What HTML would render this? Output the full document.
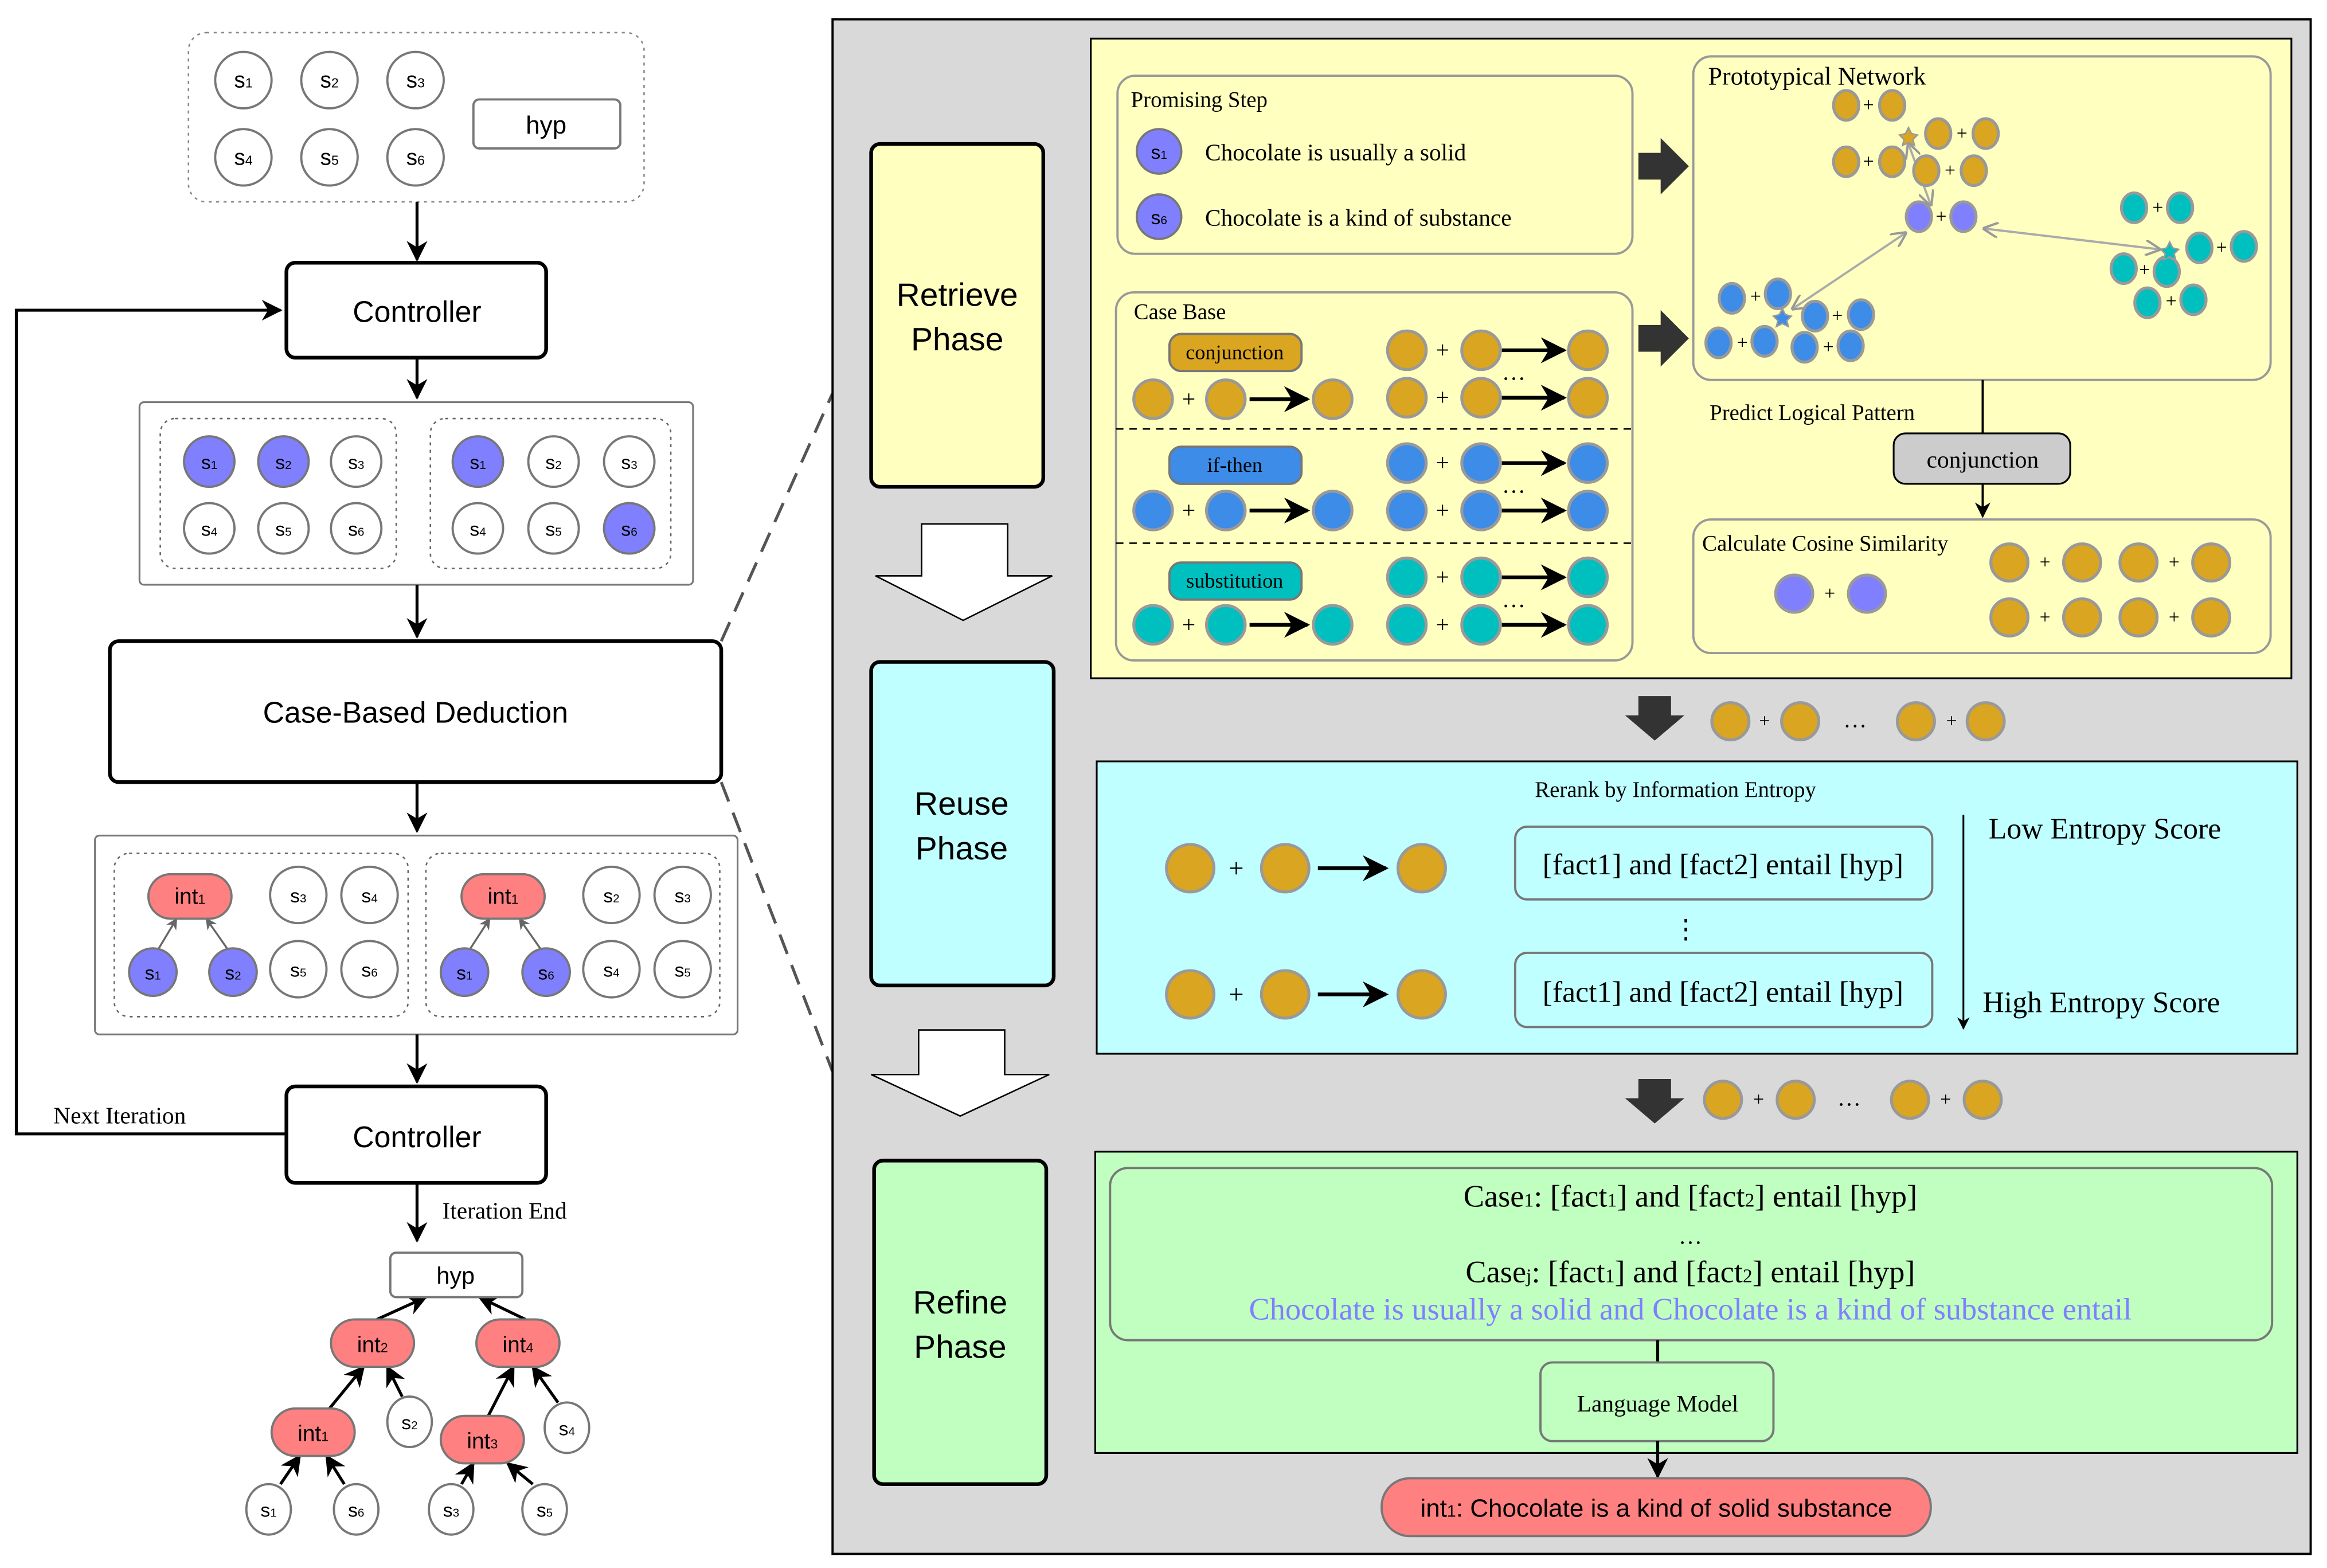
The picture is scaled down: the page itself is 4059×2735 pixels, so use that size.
<!DOCTYPE html>
<html><head><meta charset="utf-8"><style>html,body{margin:0;padding:0;background:#fff}svg{display:block}</style></head><body>
<svg width="4059" height="2735" viewBox="0 0 1568 1056.5" preserveAspectRatio="none" xmlns="http://www.w3.org/2000/svg">
<defs>
<marker id="ab" viewBox="0 0 10 10" refX="9" refY="5" markerWidth="7" markerHeight="7" orient="auto-start-reverse"><path d="M0,0 L10,5 L0,10 L3,5z" fill="#000"/></marker>
<marker id="ag" viewBox="0 0 10 10" refX="9" refY="5" markerWidth="7" markerHeight="7" orient="auto-start-reverse"><path d="M0,0 L10,5 L0,10" fill="none" stroke="#999" stroke-width="1.5"/></marker>
<marker id="agr" viewBox="0 0 10 10" refX="9" refY="5" markerWidth="6" markerHeight="6" orient="auto-start-reverse"><path d="M0,0 L10,5 L0,10 L3,5z" fill="#666"/></marker>
</defs>
<style>
.sans{font-family:"Liberation Sans",sans-serif}
.ser{font-family:"Liberation Serif",serif}
.c{stroke:#777;stroke-width:1.5}
.cg{stroke:#999;stroke-width:2}
</style>
<rect width="1568" height="1056.5" fill="#fff"/>

<!-- LEFT -->
<rect x="127" y="22" width="307" height="114" rx="12" fill="none" stroke="#888" stroke-dasharray="2,3"/>
<g class="sans" font-size="15" text-anchor="middle" fill="#000">
<g fill="#fff" class="c">
<circle cx="164" cy="54" r="19"/><circle cx="222" cy="54" r="19"/><circle cx="280" cy="54" r="19"/>
<circle cx="164" cy="106" r="19"/><circle cx="222" cy="106" r="19"/><circle cx="280" cy="106" r="19"/>
</g>
<text x="164" y="59">s<tspan font-size="9">1</tspan></text><text x="222" y="59">s<tspan font-size="9">2</tspan></text><text x="280" y="59">s<tspan font-size="9">3</tspan></text>
<text x="164" y="111">s<tspan font-size="9">4</tspan></text><text x="222" y="111">s<tspan font-size="9">5</tspan></text><text x="280" y="111">s<tspan font-size="9">6</tspan></text>
<rect x="319" y="67" width="99" height="33" rx="4" fill="#fff" class="c"/>
<text x="368" y="90" font-size="17">hyp</text>
</g>
<line x1="281" y1="136" x2="281" y2="175" stroke="#000" stroke-width="2" marker-end="url(#ab)"/>
<rect x="193" y="177" width="175" height="64" rx="6" fill="#fff" stroke="#000" stroke-width="2.5"/>
<text x="281" y="217" class="sans" font-size="20" text-anchor="middle">Controller</text>
<polyline points="193,764 11,764 11,209 189,209" fill="none" stroke="#000" stroke-width="2" marker-end="url(#ab)"/>
<line x1="281" y1="241" x2="281" y2="268" stroke="#000" stroke-width="2" marker-end="url(#ab)"/>

<rect x="94" y="271" width="373" height="123" rx="3" fill="#fff" stroke="#777" stroke-width="1.2"/>
<rect x="108" y="282" width="159" height="101" rx="10" fill="none" stroke="#666" stroke-dasharray="2,3"/>
<rect x="290" y="282" width="162" height="101" rx="10" fill="none" stroke="#666" stroke-dasharray="2,3"/>
<g class="sans" font-size="13" text-anchor="middle">
<g class="c">
<circle cx="141" cy="311" r="17" fill="#8080ff"/><circle cx="191" cy="311" r="17" fill="#8080ff"/><circle cx="240" cy="311" r="17" fill="#fff"/>
<circle cx="141" cy="356" r="17" fill="#fff"/><circle cx="191" cy="356" r="17" fill="#fff"/><circle cx="240" cy="356" r="17" fill="#fff"/>
<circle cx="322" cy="311" r="17" fill="#8080ff"/><circle cx="373" cy="311" r="17" fill="#fff"/><circle cx="424" cy="311" r="17" fill="#fff"/>
<circle cx="322" cy="356" r="17" fill="#fff"/><circle cx="373" cy="356" r="17" fill="#fff"/><circle cx="424" cy="356" r="17" fill="#8080ff"/>
</g>
<text x="141" y="316">s<tspan font-size="8">1</tspan></text><text x="191" y="316">s<tspan font-size="8">2</tspan></text><text x="240" y="316">s<tspan font-size="8">3</tspan></text>
<text x="141" y="361">s<tspan font-size="8">4</tspan></text><text x="191" y="361">s<tspan font-size="8">5</tspan></text><text x="240" y="361">s<tspan font-size="8">6</tspan></text>
<text x="322" y="316">s<tspan font-size="8">1</tspan></text><text x="373" y="316">s<tspan font-size="8">2</tspan></text><text x="424" y="316">s<tspan font-size="8">3</tspan></text>
<text x="322" y="361">s<tspan font-size="8">4</tspan></text><text x="373" y="361">s<tspan font-size="8">5</tspan></text><text x="424" y="361">s<tspan font-size="8">6</tspan></text>
</g>
<line x1="281" y1="394" x2="281" y2="429" stroke="#000" stroke-width="2" marker-end="url(#ab)"/>
<rect x="74" y="432" width="412" height="95" rx="6" fill="#fff" stroke="#000" stroke-width="2.5"/>
<text x="280" y="487" class="sans" font-size="20" text-anchor="middle">Case-Based Deduction</text>
<line x1="281" y1="527" x2="281" y2="560" stroke="#000" stroke-width="2" marker-end="url(#ab)"/>

<rect x="64" y="563" width="433" height="134" rx="3" fill="#fff" stroke="#777" stroke-width="1.2"/>
<rect x="77" y="575" width="198" height="110" rx="10" fill="none" stroke="#666" stroke-dasharray="2,3"/>
<rect x="287" y="575" width="198" height="110" rx="10" fill="none" stroke="#666" stroke-dasharray="2,3"/>
<g class="sans" font-size="13" text-anchor="middle">
<line x1="107" y1="639" x2="119" y2="619" stroke="#666" stroke-width="1.3" marker-end="url(#agr)"/>
<line x1="153" y1="639" x2="139" y2="619" stroke="#666" stroke-width="1.3" marker-end="url(#agr)"/>
<line x1="317" y1="639" x2="330" y2="619" stroke="#666" stroke-width="1.3" marker-end="url(#agr)"/>
<line x1="364" y1="639" x2="350" y2="619" stroke="#666" stroke-width="1.3" marker-end="url(#agr)"/>
<g class="c">
<rect x="100" y="589" width="56" height="30" rx="15" fill="#ff8080"/>
<rect x="311" y="589" width="56" height="30" rx="15" fill="#ff8080"/>
<circle cx="201" cy="603" r="19" fill="#fff"/><circle cx="249" cy="603" r="19" fill="#fff"/>
<circle cx="103" cy="655" r="16" fill="#8080ff"/><circle cx="157" cy="655" r="16" fill="#8080ff"/>
<circle cx="201" cy="653" r="19" fill="#fff"/><circle cx="249" cy="653" r="19" fill="#fff"/>
<circle cx="412" cy="603" r="19" fill="#fff"/><circle cx="460" cy="603" r="19" fill="#fff"/>
<circle cx="313" cy="655" r="16" fill="#8080ff"/><circle cx="368" cy="655" r="16" fill="#8080ff"/>
<circle cx="412" cy="653" r="19" fill="#fff"/><circle cx="460" cy="653" r="19" fill="#fff"/>
</g>
<text x="128" y="609" font-size="15">int<tspan font-size="9">1</tspan></text>
<text x="339" y="609" font-size="15">int<tspan font-size="9">1</tspan></text>
<text x="201" y="608">s<tspan font-size="8">3</tspan></text><text x="249" y="608">s<tspan font-size="8">4</tspan></text>
<text x="103" y="660">s<tspan font-size="8">1</tspan></text><text x="157" y="660">s<tspan font-size="8">2</tspan></text>
<text x="201" y="658">s<tspan font-size="8">5</tspan></text><text x="249" y="658">s<tspan font-size="8">6</tspan></text>
<text x="412" y="608">s<tspan font-size="8">2</tspan></text><text x="460" y="608">s<tspan font-size="8">3</tspan></text>
<text x="313" y="660">s<tspan font-size="8">1</tspan></text><text x="368" y="660">s<tspan font-size="8">6</tspan></text>
<text x="412" y="658">s<tspan font-size="8">4</tspan></text><text x="460" y="658">s<tspan font-size="8">5</tspan></text>
</g>
<line x1="281" y1="697" x2="281" y2="729" stroke="#000" stroke-width="2" marker-end="url(#ab)"/>
<rect x="193" y="732" width="175" height="65" rx="6" fill="#fff" stroke="#000" stroke-width="2.5"/>
<text x="281" y="773" class="sans" font-size="20" text-anchor="middle">Controller</text>
<text x="36" y="757" class="ser" font-size="16">Next Iteration</text>
<line x1="281" y1="797" x2="281" y2="836" stroke="#000" stroke-width="2" marker-end="url(#ab)"/>
<text x="298" y="821" class="ser" font-size="16">Iteration End</text>

<!-- tree -->
<g stroke="#000" stroke-width="2" marker-end="url(#ab)">
<line x1="254" y1="889" x2="287" y2="874"/>
<line x1="354" y1="889" x2="323" y2="874"/>
<line x1="222" y1="949" x2="245" y2="921"/>
<line x1="271" y1="941" x2="261" y2="921"/>
<line x1="329" y1="954" x2="346" y2="921"/>
<line x1="376" y1="945" x2="359" y2="921"/>
<line x1="189" y1="1000" x2="202" y2="981"/>
<line x1="232" y1="1000" x2="220" y2="981"/>
<line x1="311" y1="1000" x2="319" y2="986"/>
<line x1="359" y1="1000" x2="342" y2="986"/>
</g>
<g class="sans" font-size="15" text-anchor="middle">
<rect x="263" y="844" width="89" height="30" rx="4" fill="#fff" class="c"/>
<text x="307" y="865" font-size="16">hyp</text>
<g class="c" fill="#ff8080">
<rect x="223" y="889" width="56" height="32" rx="16"/>
<rect x="321" y="889" width="56" height="32" rx="16"/>
<rect x="183" y="949" width="56" height="32" rx="16"/>
<rect x="297" y="954" width="56" height="32" rx="16"/>
</g>
<text x="251" y="911">int<tspan font-size="9">2</tspan></text>
<text x="349" y="911">int<tspan font-size="9">4</tspan></text>
<text x="211" y="971">int<tspan font-size="9">1</tspan></text>
<text x="325" y="976">int<tspan font-size="9">3</tspan></text>
<g class="c" fill="#fff">
<ellipse cx="276" cy="958" rx="15" ry="17"/><ellipse cx="382" cy="962" rx="15" ry="17"/>
<ellipse cx="181" cy="1017" rx="15" ry="17"/><ellipse cx="240" cy="1017" rx="15" ry="17"/>
<ellipse cx="304" cy="1017" rx="15" ry="17"/><ellipse cx="367" cy="1017" rx="15" ry="17"/>
</g>
<g font-size="13">
<text x="276" y="963">s<tspan font-size="8">2</tspan></text><text x="382" y="967">s<tspan font-size="8">4</tspan></text>
<text x="181" y="1022">s<tspan font-size="8">1</tspan></text><text x="240" y="1022">s<tspan font-size="8">6</tspan></text>
<text x="304" y="1022">s<tspan font-size="8">3</tspan></text><text x="367" y="1022">s<tspan font-size="8">5</tspan></text>
</g>
</g>

<!-- dashed connectors -->
<line x1="486" y1="432" x2="561" y2="265" stroke="#555" stroke-width="2" stroke-dasharray="14,8"/>
<line x1="486" y1="527" x2="561" y2="722" stroke="#555" stroke-width="2" stroke-dasharray="14,8"/>

<!-- RIGHT PANEL -->
<rect x="561" y="13" width="996" height="1034" fill="#d9d9d9" stroke="#000" stroke-width="1.5"/>
<g class="sans" font-size="22" text-anchor="middle">
<rect x="587" y="97" width="116" height="231" rx="6" fill="#ffffc0" stroke="#000" stroke-width="2.5"/>
<text x="645" y="206">Retrieve</text><text x="645" y="236">Phase</text>
<rect x="587" y="446" width="123" height="218" rx="6" fill="#c0ffff" stroke="#000" stroke-width="2.5"/>
<text x="648" y="549">Reuse</text><text x="648" y="579">Phase</text>
<rect x="589" y="782" width="116" height="218" rx="6" fill="#c0ffc0" stroke="#000" stroke-width="2.5"/>
<text x="647" y="885">Refine</text><text x="647" y="915">Phase</text>
</g>
<path d="M621,353 H679 V388 H709 L649,418 L590,388 H621Z" fill="#fff" stroke="#000" stroke-width="1"/>
<path d="M619,694 H677 V724 H707 L647,752 L587,724 H619Z" fill="#fff" stroke="#000" stroke-width="1"/>

<!-- yellow panel -->
<rect x="735" y="26" width="809" height="431" fill="#ffffc0" stroke="#000" stroke-width="1.2"/>
<rect x="753" y="51" width="347" height="120" rx="12" fill="none" stroke="#999" stroke-width="1.5"/>
<g class="ser" font-size="16">
<text x="762" y="72" font-size="15">Promising Step</text>
<circle cx="781" cy="102" r="15" fill="#8080ff" class="c"/>
<text x="781" y="107" class="sans" font-size="13" text-anchor="middle">s<tspan font-size="8">1</tspan></text>
<text x="812" y="108">Chocolate is usually a solid</text>
<circle cx="781" cy="146" r="15" fill="#8080ff" class="c"/>
<text x="781" y="151" class="sans" font-size="13" text-anchor="middle">s<tspan font-size="8">6</tspan></text>
<text x="812" y="152">Chocolate is a kind of substance</text>
</g>
<path d="M1104,103 H1119 V93 L1138,112 L1119,131 V121 H1104Z" fill="#333"/>
<path d="M1104,219 H1119 V209 L1138,228 L1119,247 V237 H1104Z" fill="#333"/>

<rect x="752" y="197" width="348" height="248" rx="12" fill="none" stroke="#999" stroke-width="1.5"/>
<text x="764" y="215" class="ser" font-size="15">Case Base</text>
<line x1="752" y1="289" x2="1100" y2="289" stroke="#000" stroke-dasharray="5,4"/>
<line x1="752" y1="366" x2="1100" y2="366" stroke="#000" stroke-dasharray="5,4"/>
<g class="ser" font-size="14" text-anchor="middle">
<rect x="788" y="225" width="89" height="25" rx="8" fill="#daa520" class="c"/><text x="832" y="242">conjunction</text>
<rect x="788" y="301" width="89" height="25" rx="8" fill="#3c8ce8" class="c"/><text x="832" y="318">if-then</text>
<rect x="788" y="379" width="89" height="25" rx="8" fill="#00bfbf" class="c"/><text x="832" y="396">substitution</text>
</g>
<g class="cg" stroke-width="1.5">
<!-- conj -->
<g fill="#daa520">
<circle cx="777" cy="269" r="13"/><circle cx="826" cy="269" r="13"/><circle cx="898" cy="269" r="13"/>
<circle cx="948" cy="236" r="13"/><circle cx="998" cy="236" r="13"/><circle cx="1070" cy="236" r="13"/>
<circle cx="948" cy="268" r="13"/><circle cx="998" cy="268" r="13"/><circle cx="1070" cy="268" r="13"/>
</g>
<g fill="#3c8ce8">
<circle cx="777" cy="344" r="13"/><circle cx="826" cy="344" r="13"/><circle cx="898" cy="344" r="13"/>
<circle cx="948" cy="312" r="13"/><circle cx="998" cy="312" r="13"/><circle cx="1070" cy="312" r="13"/>
<circle cx="948" cy="344" r="13"/><circle cx="998" cy="344" r="13"/><circle cx="1070" cy="344" r="13"/>
</g>
<g fill="#00bfbf">
<circle cx="777" cy="421" r="13"/><circle cx="826" cy="421" r="13"/><circle cx="898" cy="421" r="13"/>
<circle cx="948" cy="389" r="13"/><circle cx="998" cy="389" r="13"/><circle cx="1070" cy="389" r="13"/>
<circle cx="948" cy="421" r="13"/><circle cx="998" cy="421" r="13"/><circle cx="1070" cy="421" r="13"/>
</g>
</g>
<g stroke="#000" stroke-width="2.5" marker-end="url(#ab)">
<line x1="842" y1="269" x2="881" y2="269"/><line x1="1012" y1="236" x2="1054" y2="236"/><line x1="1012" y1="268" x2="1054" y2="268"/>
<line x1="842" y1="344" x2="881" y2="344"/><line x1="1012" y1="312" x2="1054" y2="312"/><line x1="1012" y1="344" x2="1054" y2="344"/>
<line x1="842" y1="421" x2="881" y2="421"/><line x1="1012" y1="389" x2="1054" y2="389"/><line x1="1012" y1="421" x2="1054" y2="421"/>
</g>
<g class="ser" font-size="16" text-anchor="middle">
<text x="801" y="274">+</text><text x="972" y="241">+</text><text x="972" y="273">+</text><text x="1020" y="256">…</text>
<text x="801" y="349">+</text><text x="972" y="317">+</text><text x="972" y="349">+</text><text x="1020" y="332">…</text>
<text x="801" y="426">+</text><text x="972" y="394">+</text><text x="972" y="426">+</text><text x="1020" y="409">…</text>
</g>

<!-- prototypical network -->
<rect x="1141" y="38" width="389" height="218" rx="12" fill="none" stroke="#999" stroke-width="1.5"/>
<text x="1151" y="57" class="ser" font-size="17">Prototypical Network</text>
<g stroke="#aaa" stroke-width="1.5" marker-end="url(#ag)" marker-start="url(#ag)">
<line x1="1286" y1="97" x2="1301" y2="138"/>
<line x1="1337" y1="154" x2="1455" y2="168"/>
<line x1="1284" y1="157" x2="1208" y2="208"/>
</g>
<g class="cg" stroke-width="1.8">
<g fill="#daa520">
<ellipse cx="1244" cy="71" rx="8.5" ry="10"/><ellipse cx="1275" cy="71" rx="8.5" ry="10"/>
<ellipse cx="1306" cy="90" rx="8.5" ry="10"/><ellipse cx="1338" cy="90" rx="8.5" ry="10"/>
<ellipse cx="1244" cy="109" rx="8.5" ry="10"/><ellipse cx="1275" cy="109" rx="8.5" ry="10"/>
<ellipse cx="1298" cy="115" rx="8.5" ry="10"/><ellipse cx="1330" cy="115" rx="8.5" ry="10"/>
</g>
<g fill="#8080ff"><ellipse cx="1293" cy="146" rx="8.5" ry="10"/><ellipse cx="1323" cy="146" rx="8.5" ry="10"/></g>
<g fill="#3c8ce8">
<ellipse cx="1167" cy="201" rx="8.5" ry="10"/><ellipse cx="1198" cy="198" rx="8.5" ry="10"/>
<ellipse cx="1223" cy="213" rx="8.5" ry="10"/><ellipse cx="1254" cy="212" rx="8.5" ry="10"/>
<ellipse cx="1158" cy="231" rx="8.5" ry="10"/><ellipse cx="1189" cy="230" rx="8.5" ry="10"/>
<ellipse cx="1216" cy="234" rx="8.5" ry="10"/><ellipse cx="1247" cy="233" rx="8.5" ry="10"/>
</g>
<g fill="#00bfbf">
<ellipse cx="1438" cy="140" rx="8.5" ry="10"/><ellipse cx="1469" cy="140" rx="8.5" ry="10"/>
<ellipse cx="1482" cy="167" rx="8.5" ry="10"/><ellipse cx="1512" cy="166" rx="8.5" ry="10"/>
<ellipse cx="1431" cy="181" rx="8.5" ry="10"/><ellipse cx="1460" cy="183" rx="8.5" ry="10"/>
<ellipse cx="1447" cy="204" rx="8.5" ry="10"/><ellipse cx="1478" cy="202" rx="8.5" ry="10"/>
</g>
</g>
<g stroke="#999" stroke-width="1">
<polygon points="1286,86 1288,90 1292,91 1289,94 1290,98 1286,96 1282,98 1283,94 1280,91 1284,90" fill="#daa520"/>
<polygon points="1201,208 1203,212 1207,213 1204,216 1205,220 1201,218 1197,220 1198,216 1195,213 1199,212" fill="#3c8ce8"/>
<polygon points="1462,163 1464,167 1468,168 1465,171 1466,175 1462,173 1458,175 1459,171 1456,168 1460,167" fill="#00bfbf"/>
</g>
<g class="ser" font-size="13" text-anchor="middle">
<text x="1259" y="75">+</text><text x="1322" y="94">+</text><text x="1259" y="113">+</text><text x="1314" y="119">+</text>
<text x="1308" y="150">+</text>
<text x="1183" y="204">+</text><text x="1238" y="217">+</text><text x="1174" y="235">+</text><text x="1232" y="238">+</text>
<text x="1454" y="144">+</text><text x="1497" y="171">+</text><text x="1445" y="186">+</text><text x="1463" y="207">+</text>
</g>
<text x="1152" y="283" class="ser" font-size="15">Predict Logical Pattern</text>
<line x1="1336" y1="256" x2="1336" y2="292" stroke="#000" stroke-width="1.5"/>
<rect x="1276" y="292" width="119" height="34" rx="8" fill="#ccc" stroke="#000" stroke-width="1.2"/>
<text x="1336" y="315" class="ser" font-size="16" text-anchor="middle">conjunction</text>
<line x1="1336" y1="326" x2="1336" y2="348" stroke="#000" stroke-width="1.5" marker-end="url(#ab)"/>
<rect x="1141" y="350" width="389" height="90" rx="12" fill="none" stroke="#999" stroke-width="1.5"/>
<text x="1147" y="371" class="ser" font-size="15">Calculate Cosine Similarity</text>
<g class="cg" stroke-width="1.5">
<circle cx="1209" cy="400" r="12.5" fill="#8080ff"/><circle cx="1258" cy="400" r="12.5" fill="#8080ff"/>
<g fill="#daa520">
<circle cx="1354" cy="379" r="12.5"/><circle cx="1403" cy="379" r="12.5"/><circle cx="1441" cy="379" r="12.5"/><circle cx="1490" cy="379" r="12.5"/>
<circle cx="1354" cy="416" r="12.5"/><circle cx="1403" cy="416" r="12.5"/><circle cx="1441" cy="416" r="12.5"/><circle cx="1490" cy="416" r="12.5"/>
</g>
</g>
<g class="ser" font-size="13" text-anchor="middle">
<text x="1233" y="404">+</text><text x="1378" y="383">+</text><text x="1465" y="383">+</text><text x="1378" y="420">+</text><text x="1465" y="420">+</text>
</g>

<!-- between yellow/cyan -->
<path d="M1104,469 H1126 V482 H1135 L1115,499 L1095,482 H1104Z" fill="#333"/>
<g class="cg" stroke-width="1.5" fill="#daa520">
<circle cx="1166" cy="486" r="12.5"/><circle cx="1213" cy="486" r="12.5"/><circle cx="1291" cy="486" r="12.5"/><circle cx="1338" cy="486" r="12.5"/>
</g>
<g class="ser" font-size="13" text-anchor="middle"><text x="1189" y="490">+</text><text x="1315" y="490">+</text><text x="1250" y="490" font-size="16">…</text></g>

<!-- cyan panel -->
<rect x="739" y="513" width="809" height="197" fill="#c0ffff" stroke="#000" stroke-width="1.2"/>
<text x="1129" y="537" class="ser" font-size="15" text-anchor="middle">Rerank by Information Entropy</text>
<g class="cg" stroke-width="1.5" fill="#daa520">
<circle cx="802" cy="585" r="16"/><circle cx="866" cy="585" r="16"/><circle cx="958" cy="585" r="16"/>
<circle cx="802" cy="670" r="16"/><circle cx="866" cy="670" r="16"/><circle cx="958" cy="670" r="16"/>
</g>
<g stroke="#000" stroke-width="2.5" marker-end="url(#ab)"><line x1="888" y1="585" x2="934" y2="585"/><line x1="888" y1="670" x2="934" y2="670"/></g>
<g class="ser" font-size="18" text-anchor="middle"><text x="833" y="591">+</text><text x="833" y="676">+</text></g>
<rect x="1021" y="557" width="281" height="49" rx="8" fill="none" stroke="#777" stroke-width="1.5"/>
<rect x="1021" y="642" width="281" height="50" rx="8" fill="none" stroke="#777" stroke-width="1.5"/>
<g class="ser" font-size="20" text-anchor="middle">
<text x="1161" y="589">[fact1] and [fact2] entail [hyp]</text>
<text x="1161" y="675">[fact1] and [fact2] entail [hyp]</text>
<text x="1136" y="632" font-size="18">⋮</text>
</g>
<line x1="1323" y1="549" x2="1323" y2="693" stroke="#000" stroke-width="1.2" marker-end="url(#ab)"/>
<g class="ser" font-size="20"><text x="1340" y="565">Low Entropy Score</text><text x="1336" y="682">High Entropy Score</text></g>

<path d="M1104,727 H1126 V740 H1135 L1115,757 L1095,740 H1104Z" fill="#333"/>
<g class="cg" stroke-width="1.5" fill="#daa520">
<circle cx="1161" cy="741" r="12.5"/><circle cx="1210" cy="741" r="12.5"/><circle cx="1287" cy="741" r="12.5"/><circle cx="1336" cy="741" r="12.5"/>
</g>
<g class="ser" font-size="13" text-anchor="middle"><text x="1185" y="745">+</text><text x="1311" y="745">+</text><text x="1246" y="745" font-size="16">…</text></g>

<!-- green panel -->
<rect x="738" y="776" width="810" height="203" fill="#c0ffc0" stroke="#000" stroke-width="1.2"/>
<rect x="748" y="787" width="783" height="116" rx="12" fill="none" stroke="#777" stroke-width="1.5"/>
<g class="ser" font-size="21" text-anchor="middle">
<text x="1139" y="813">Case<tspan font-size="13">1</tspan>: [fact<tspan font-size="13">1</tspan>] and [fact<tspan font-size="13">2</tspan>] entail [hyp]</text>
<text x="1139" y="838" font-size="16">…</text>
<text x="1139" y="864">Case<tspan font-size="13">j</tspan>: [fact<tspan font-size="13">1</tspan>] and [fact<tspan font-size="13">2</tspan>] entail [hyp]</text>
<text x="1139" y="889" fill="#8080ff">Chocolate is usually a solid and Chocolate is a kind of substance entail</text>
</g>
<line x1="1117" y1="903" x2="1117" y2="918" stroke="#000" stroke-width="2"/>
<rect x="1038" y="918" width="157" height="53" rx="8" fill="none" stroke="#777" stroke-width="1.5"/>
<text x="1117" y="951" class="ser" font-size="16" text-anchor="middle">Language Model</text>
<line x1="1117" y1="971" x2="1117" y2="995" stroke="#000" stroke-width="2" marker-end="url(#ab)"/>
<rect x="931" y="996" width="370" height="39" rx="19" fill="#ff8080" stroke="#777" stroke-width="1.5"/>
<text x="1116" y="1022" class="sans" font-size="17" text-anchor="middle">int<tspan font-size="11">1</tspan>: Chocolate is a kind of solid substance</text>
</svg>
</body></html>
